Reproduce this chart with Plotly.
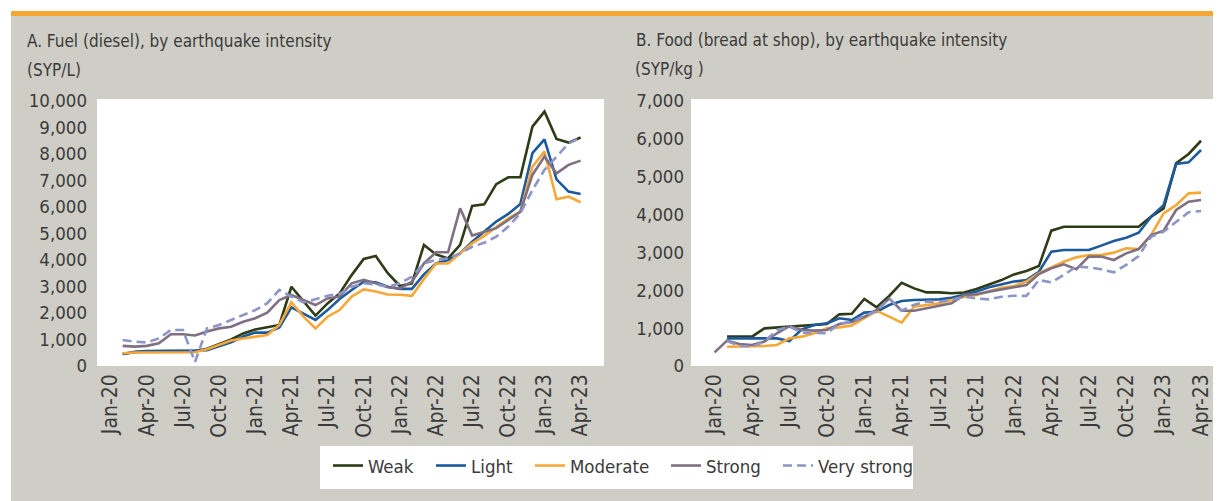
import plotly.graph_objects as go
import pandas as pd

# ---------------- data ----------------
months = [d.strftime("%b-%y") for d in pd.date_range("2020-01-01", "2023-04-01", freq="MS")]
tick_labels = months[::3]

series_names = ["Weak", "Light", "Moderate", "Strong", "Very strong"]

fuel_weak = [None, 450, 520, 550, 550, 550, 550, 560, 650, 830, 1000, 1230, 1380, 1460, 1550, 2990, 2430, 1900, 2360, 2740,
             3430, 4040, 4150, 3500, 3020, 3120, 4570, 4210, 4060, 4570, 6040, 6100, 6860, 7120, 7120, 9030, 9600, 8570, 8430, 8620]
fuel_light = [None, 450, 540, 560, 560, 560, 560, 580, 600, 760, 890, 1110, 1260, 1260, 1450, 2210, 1960, 1740, 2110, 2530,
              2870, 3180, 3160, 2990, 2910, 2910, 3460, 3870, 4000, 4250, 4690, 5070, 5450, 5740, 6110, 8030, 8550, 7040, 6580, 6490]
fuel_moderate = [None, 480, 510, 510, 510, 510, 510, 520, 630, 790, 960, 1040, 1110, 1170, 1550, 2400, 1860, 1420, 1860, 2110,
                 2620, 2890, 2810, 2700, 2690, 2650, 3280, 3870, 3870, 4250, 4630, 4910, 5230, 5570, 5820, 7520, 8090, 6290, 6390, 6180]
fuel_strong = [None, 760, 730, 760, 860, 1200, 1200, 1150, 1300, 1420, 1480, 1670, 1800, 2010, 2490, 2680, 2490, 2300, 2550, 2620,
               3120, 3250, 3120, 2970, 2930, 3180, 3870, 4290, 4290, 5950, 4920, 5070, 5200, 5510, 5820, 7210, 7900, 7270, 7590, 7750]
fuel_very_strong = [None, 980, 920, 890, 1040, 1360, 1360, 150, 1420, 1550, 1740, 1930, 2110, 2370, 2870, 2620, 2400, 2520, 2650, 2720,
                    2990, 3120, 3080, 2990, 3120, 3370, 3870, 4000, 4060, 4250, 4500, 4650, 4880, 5260, 5760, 6640, 7400, 7900, 8400, 8620]

food_weak = [None, 775, 775, 775, 995, 1020, 1040, 1055, 1085, 1110, 1365, 1380, 1770, 1550, 1850, 2200, 2050, 1945, 1945, 1920,
             1940, 2035, 2155, 2270, 2420, 2510, 2640, 3575, 3680, 3680, 3680, 3680, 3680, 3680, 3680, 3945, 4165, 5355, 5600, 5950]
food_light = [None, 730, 730, 730, 740, 730, 660, 970, 1085, 1125, 1260, 1215, 1410, 1435, 1610, 1715, 1745, 1745, 1760, 1805,
              1895, 1965, 2080, 2150, 2230, 2270, 2490, 3020, 3065, 3065, 3065, 3180, 3300, 3390, 3520, 3945, 4250, 5335, 5380, 5705]
food_moderate = [None, 510, 510, 510, 530, 555, 730, 775, 865, 995, 1020, 1070, 1260, 1455, 1305, 1145, 1565, 1610, 1655, 1745,
                 1830, 1875, 1965, 2065, 2115, 2230, 2450, 2605, 2755, 2870, 2930, 2930, 2995, 3110, 3090, 3460, 4030, 4250, 4560, 4580]
food_strong = [360, 670, 580, 555, 645, 865, 1055, 950, 935, 950, 1110, 1160, 1300, 1480, 1785, 1460, 1460, 1525, 1585, 1655,
               1875, 1895, 1965, 2025, 2080, 2140, 2430, 2580, 2685, 2555, 2890, 2890, 2800, 2975, 3090, 3460, 3575, 4120, 4340, 4385]
food_very_strong = [None, 660, 530, 510, 645, 950, 1040, 880, 880, 865, 1125, 1160, 1330, 1450, 1785, 1460, 1620, 1700, 1700, 1745,
                    1830, 1785, 1760, 1830, 1855, 1850, 2270, 2210, 2405, 2625, 2605, 2555, 2475, 2670, 2905, 3415, 3550, 3810, 4060, 4095]

fuel_ticks = list(range(0, 10001, 1000))
food_ticks = list(range(0, 7001, 1000))

# ---------------- style ----------------
# page body has an 8px margin, so the figure is sized to end exactly at the window edge
OFF = 8
W, H = 1221 - OFF, 501 - OFF
FONT = "DejaVu Sans Condensed, Liberation Sans Narrow, Arial Narrow, sans-serif"
TXT = "#3a3a3a"
GRAY = "#cfcec6"
ORANGE = "#f5a733"
colors = ["#2e3b17", "#1c5a9c", "#f5a838", "#7e7082", "#8d95c6"]
dashes = ["solid", "solid", "solid", "solid", "9px,5px"]

fuel = [fuel_weak, fuel_light, fuel_moderate, fuel_strong, fuel_very_strong]
food = [food_weak, food_light, food_moderate, food_strong, food_very_strong]


def px(x):  # page pixel -> paper fraction
    return (x - OFF) / W


def py(y):
    return 1 - (y - OFF) / H


legend_ids = ["legend", "legend2", "legend3", "legend4", "legend5"]
legend_x = [328, 431, 530, 666, 778]  # page x of each legend entry

fig = go.Figure()
for i, name in enumerate(series_names):
    fig.add_trace(go.Scatter(x=months, y=fuel[i], name=name, mode="lines", legendgroup=name,
                             legend=legend_ids[i],
                             line=dict(color=colors[i], width=2.6, dash=dashes[i]),
                             xaxis="x", yaxis="y", connectgaps=False))
for i, name in enumerate(series_names):
    fig.add_trace(go.Scatter(x=months, y=food[i], name=name, mode="lines", legendgroup=name, showlegend=False,
                             line=dict(color=colors[i], width=2.6, dash=dashes[i]),
                             xaxis="x2", yaxis="y2", connectgaps=False))

ydom = [py(366), py(99)]
common_x = dict(type="category", categoryorder="array", categoryarray=months, automargin=False,
                tickmode="array", tickvals=tick_labels, ticktext=tick_labels, tickangle=-90,
                showgrid=False, zeroline=False, showline=False, ticks="",
                tickfont=dict(family=FONT, size=21, color=TXT), ticklabelstandoff=3)
common_y = dict(showgrid=False, zeroline=False, showline=False, ticks="", tickformat=",", automargin=False,
                tickfont=dict(family=FONT, size=18.5, color=TXT))

legends = {}
for i, lid in enumerate(legend_ids):
    legends[lid] = dict(orientation="h", xref="container", yref="container",
                        x=(legend_x[i] - OFF) / W, xanchor="left",
                        y=1 - (466 - OFF) / H, yanchor="middle",
                        bgcolor="rgba(0,0,0,0)", borderwidth=0,
                        font=dict(family=FONT, size=18.5, color=TXT), itemwidth=30)

fig.update_layout(
    width=W, height=H,
    margin=dict(l=0, r=0, t=0, b=0, autoexpand=False),
    paper_bgcolor=GRAY, plot_bgcolor="white",
    font=dict(family=FONT, color=TXT),
    xaxis=dict(domain=[px(97), px(604)], anchor="y", range=[-1.13, 40.94], **common_x),
    yaxis=dict(domain=ydom, anchor="x", range=[0, 10075], tickmode="array", tickvals=fuel_ticks,
               ticklabelstandoff=9, **common_y),
    xaxis2=dict(domain=[px(691), 1], anchor="y2", range=[-1.89, 40.6], **common_x),
    yaxis2=dict(domain=ydom, anchor="x2", range=[0, 7053], tickmode="array", tickvals=food_ticks,
                ticklabelstandoff=6, **common_y),
    showlegend=True,
    shapes=[
        dict(type="rect", xref="paper", yref="paper", x0=0, x1=1, y0=py(11), y1=1,
             fillcolor="white", line=dict(width=0), layer="above"),
        dict(type="rect", xref="paper", yref="paper", x0=0, x1=px(11), y0=0, y1=1,
             fillcolor="white", line=dict(width=0), layer="above"),
        dict(type="rect", xref="paper", yref="paper", x0=px(11), x1=1, y0=py(16), y1=py(11),
             fillcolor=ORANGE, line=dict(width=0), layer="above"),
        dict(type="rect", xref="paper", yref="paper", x0=px(320), x1=px(913), y0=py(489), y1=py(446),
             fillcolor="white", line=dict(width=0), layer="below"),
    ],
    annotations=[
        dict(text="A. Fuel (diesel), by earthquake intensity", x=px(25), y=py(41), xref="paper", yref="paper",
             xanchor="left", yanchor="middle", showarrow=False, font=dict(family=FONT, size=17, color=TXT)),
        dict(text="(SYP/L)", x=px(25), y=py(70), xref="paper", yref="paper",
             xanchor="left", yanchor="middle", showarrow=False, font=dict(family=FONT, size=17, color=TXT)),
        dict(text="B. Food (bread at shop), by earthquake intensity", x=px(634), y=py(40), xref="paper", yref="paper",
             xanchor="left", yanchor="middle", showarrow=False, font=dict(family=FONT, size=17, color=TXT)),
        dict(text="(SYP/kg )", x=px(633), y=py(69), xref="paper", yref="paper",
             xanchor="left", yanchor="middle", showarrow=False, font=dict(family=FONT, size=17, color=TXT)),
    ],
)
fig.update_layout(**legends)

fig.write_html("out.html")
